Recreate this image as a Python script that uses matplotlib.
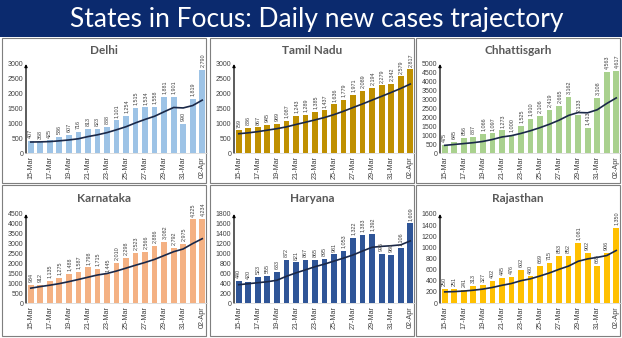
import matplotlib
matplotlib.use("Agg")
import matplotlib.pyplot as plt
from matplotlib.patches import Rectangle

# dates shown on the x axis (every other label is printed)
dates = ["15-Mar", "16-Mar", "17-Mar", "18-Mar", "19-Mar", "20-Mar", "21-Mar",
         "22-Mar", "23-Mar", "24-Mar", "25-Mar", "26-Mar", "27-Mar", "28-Mar",
         "29-Mar", "30-Mar", "31-Mar", "01-Apr", "02-Apr"]

states = ["Delhi", "Tamil Nadu", "Chhattisgarh", "Karnataka", "Haryana", "Rajasthan"]

# daily new cases (bars)
delhi = [407, 368, 425, 536, 607, 716, 813, 823, 888, 1101, 1254, 1515, 1534,
         1558, 1881, 1901, 990, 1819, 2790]
tamil_nadu = [759, 836, 867, 945, 989, 1087, 1243, 1289, 1385, 1437, 1636, 1779,
              1971, 2089, 2194, 2279, 2342, 2579, 2817]
chhattisgarh = [475, 645, 856, 887, 1066, 1097, 1273, 1000, 1525, 1910, 2106, 2419,
                2665, 3162, 2133, 1413, 3108, 4563, 4617]
karnataka = [934, 912, 1135, 1275, 1488, 1587, 1798, 1715, 1445, 2010, 2298, 2523,
             2566, 2886, 3082, 2792, 2975, 4225, 4234]
haryana = [440, 420, 523, 555, 633, 872, 821, 867, 865, 895, 981, 1053, 1322,
           1383, 1392, 995, 980, 1106, 1609]
rajasthan = [250, 251, 241, 313, 327, 402, 445, 476, 602, 480, 669, 715, 853,
             852, 1081, 902, 665, 906, 1350]

# trend line
delhi_trend = [370, 375, 385, 410, 440, 480, 553, 613, 687, 783, 886, 1016, 1133,
               1239, 1390, 1535, 1519, 1600, 1782]
tamil_nadu_trend = [650, 680, 720, 770, 820, 880, 961, 1037, 1115, 1196, 1295, 1408,
                    1534, 1655, 1784, 1912, 2041, 2176, 2324]
chhattisgarh_trend = [430, 480, 530, 580, 650, 760, 900, 975, 1101, 1251, 1425, 1619,
                      1843, 2112, 2274, 2258, 2429, 2780, 3094]
karnataka_trend = [750, 830, 900, 980, 1080, 1190, 1304, 1416, 1492, 1617, 1763, 1911,
                   2051, 2206, 2401, 2594, 2732, 3007, 3251]
haryana_trend = [370, 390, 410, 430, 460, 540, 609, 670, 734, 787, 848, 908, 972,
                 1052, 1127, 1146, 1158, 1176, 1255]
rajasthan_trend = [200, 205, 215, 230, 250, 280, 318, 351, 401, 435, 486, 541, 606,
                   664, 750, 793, 820, 853, 944]

bars = [delhi, tamil_nadu, chhattisgarh, karnataka, haryana, rajasthan]
trends = [delhi_trend, tamil_nadu_trend, chhattisgarh_trend, karnataka_trend,
          haryana_trend, rajasthan_trend]
colors = ["#9dc3e6", "#bf9000", "#a9d18e", "#f4b183", "#2f5597", "#ffc000"]
y_max = [3000, 3000, 5000, 4500, 1800, 1600]
y_step = [500, 500, 500, 500, 200, 200]

narrow = ["Liberation Sans Narrow", "Liberation Sans", "DejaVu Sans"]

W, H = 622, 338
fig = plt.figure(figsize=(W / 100, H / 100), dpi=100)
fig.patch.set_facecolor("white")

def fx(px):
    return px / W

def fy(py):
    return 1 - py / H

# title bar
fig.add_artist(Rectangle((0, fy(37)), 1, 37 / H, transform=fig.transFigure,
                         facecolor="#0b2a6e", edgecolor="none", zorder=-10))
fig.text(0.51, fy(19), "States in Focus: Daily new cases trajectory",
         color="white", fontsize=19, family="Lato", ha="center", va="center")

col_x = [2, 210, 416]
row_y = [(38, 145, 64, 153), (185, 151, 214, 303)]

for k, name in enumerate(states):
    r, c = divmod(k, 3)
    x0 = col_x[c]
    top, h, ax_top, ax_bot = row_y[r]
    fig.add_artist(Rectangle((fx(x0), fy(top + h)), 204 / W, h / H,
                             transform=fig.transFigure, facecolor="white",
                             edgecolor="#7f7f7f", linewidth=0.8, zorder=-10))
    fig.text(fx(x0 + 102), fy(top + 13), name, fontsize=8.5, fontweight="bold",
             family="Lato", color="#595959", ha="center", va="center")

    ax = fig.add_axes([fx(x0 + 24), fy(ax_bot), 181 / W, (ax_bot - ax_top) / H])
    ax.set_facecolor("none")
    x = list(range(len(dates)))
    ax.bar(x, bars[k], width=0.6, color=colors[k], zorder=2)
    ax.plot(x, trends[k], color="#1a2848", linewidth=1.2, zorder=3)
    for i, v in enumerate(bars[k]):
        ax.annotate(f"{v:,}", (i, v), xytext=(0, 2), textcoords="offset points",
                    rotation=90, ha="center", va="bottom", fontsize=3.9,
                    family=narrow, color="#404040")

    ax.set_xlim(-0.5, 18.5)
    ax.set_ylim(0, y_max[k])
    ax.set_yticks(range(0, y_max[k] + 1, y_step[k]))
    ax.set_xticks(x[::2])
    ax.set_xticklabels(dates[::2], rotation=90, fontsize=5.2, family=narrow,
                       color="#404040")
    for lab in ax.get_yticklabels():
        lab.set_family(["Liberation Sans", "DejaVu Sans"])
    ax.tick_params(axis="y", labelsize=5, colors="#404040", length=0, pad=2)
    ax.tick_params(axis="x", length=0, pad=2)
    for s in ["top", "right", "left"]:
        ax.spines[s].set_visible(False)
    ax.spines["bottom"].set_color("#d9d9d9")
    ax.spines["bottom"].set_linewidth(0.6)
    ax.annotate("", xy=(0, 1.0), xytext=(0, 0), xycoords="axes fraction",
                arrowprops=dict(arrowstyle="-|>", lw=0.9, color="black",
                                mutation_scale=4, shrinkA=0, shrinkB=0))

fig.savefig("out.png", dpi=100)
